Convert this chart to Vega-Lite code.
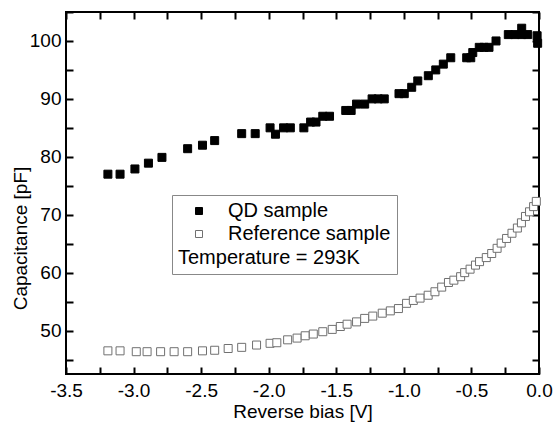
{
  "$schema": "https://vega.github.io/schema/vega-lite/v6.json",
  "width": 473,
  "height": 362,
  "autosize": {"type": "none"},
  "padding": {"left": 66, "top": 12, "right": 15, "bottom": 48},
  "background": "white",
  "config": {
    "view": {"stroke": "black", "strokeWidth": 2},
    "font": "Liberation Sans",
    "axis": {
      "domain": false,
      "grid": false,
      "tickColor": "black",
      "tickWidth": 2,
      "tickSize": 7,
      "labelFont": "Liberation Sans",
      "labelFontSize": 19,
      "labelColor": "black",
      "titleFont": "Liberation Sans",
      "titleFontSize": 19,
      "titleFontWeight": "normal",
      "titleColor": "black",
      "labelOverlap": false,
      "labelBound": false,
      "labelFlush": false
    }
  },
  "data": {
    "values": [
      {"bias": -3.19, "cap": 77.0, "series": "QD sample"},
      {"bias": -3.10, "cap": 77.0, "series": "QD sample"},
      {"bias": -2.99, "cap": 77.9, "series": "QD sample"},
      {"bias": -2.89, "cap": 78.9, "series": "QD sample"},
      {"bias": -2.79, "cap": 79.9, "series": "QD sample"},
      {"bias": -2.60, "cap": 81.4, "series": "QD sample"},
      {"bias": -2.49, "cap": 82.0, "series": "QD sample"},
      {"bias": -2.40, "cap": 82.8, "series": "QD sample"},
      {"bias": -2.20, "cap": 84.0, "series": "QD sample"},
      {"bias": -2.10, "cap": 84.0, "series": "QD sample"},
      {"bias": -1.99, "cap": 85.0, "series": "QD sample"},
      {"bias": -1.95, "cap": 83.9, "series": "QD sample"},
      {"bias": -1.89, "cap": 85.0, "series": "QD sample"},
      {"bias": -1.84, "cap": 85.0, "series": "QD sample"},
      {"bias": -1.74, "cap": 85.0, "series": "QD sample"},
      {"bias": -1.69, "cap": 86.0, "series": "QD sample"},
      {"bias": -1.65, "cap": 86.0, "series": "QD sample"},
      {"bias": -1.60, "cap": 87.0, "series": "QD sample"},
      {"bias": -1.55, "cap": 87.0, "series": "QD sample"},
      {"bias": -1.43, "cap": 88.0, "series": "QD sample"},
      {"bias": -1.39, "cap": 88.0, "series": "QD sample"},
      {"bias": -1.35, "cap": 89.1, "series": "QD sample"},
      {"bias": -1.29, "cap": 89.1, "series": "QD sample"},
      {"bias": -1.235, "cap": 90.0, "series": "QD sample"},
      {"bias": -1.19, "cap": 90.0, "series": "QD sample"},
      {"bias": -1.145, "cap": 90.0, "series": "QD sample"},
      {"bias": -1.036, "cap": 90.9, "series": "QD sample"},
      {"bias": -0.997, "cap": 90.9, "series": "QD sample"},
      {"bias": -0.942, "cap": 92.0, "series": "QD sample"},
      {"bias": -0.897, "cap": 93.1, "series": "QD sample"},
      {"bias": -0.819, "cap": 94.0, "series": "QD sample"},
      {"bias": -0.764, "cap": 95.0, "series": "QD sample"},
      {"bias": -0.708, "cap": 96.0, "series": "QD sample"},
      {"bias": -0.653, "cap": 97.1, "series": "QD sample"},
      {"bias": -0.535, "cap": 97.1, "series": "QD sample"},
      {"bias": -0.505, "cap": 97.1, "series": "QD sample"},
      {"bias": -0.49, "cap": 98.0, "series": "QD sample"},
      {"bias": -0.442, "cap": 98.9, "series": "QD sample"},
      {"bias": -0.407, "cap": 98.9, "series": "QD sample"},
      {"bias": -0.37, "cap": 98.9, "series": "QD sample"},
      {"bias": -0.318, "cap": 100.0, "series": "QD sample"},
      {"bias": -0.227, "cap": 101.1, "series": "QD sample"},
      {"bias": -0.178, "cap": 101.1, "series": "QD sample"},
      {"bias": -0.128, "cap": 102.2, "series": "QD sample"},
      {"bias": -0.128, "cap": 101.1, "series": "QD sample"},
      {"bias": -0.084, "cap": 101.1, "series": "QD sample"},
      {"bias": -0.014, "cap": 100.9, "series": "QD sample"},
      {"bias": -0.010, "cap": 99.6, "series": "QD sample"},
      {"bias": -3.19, "cap": 46.5, "series": "Reference sample"},
      {"bias": -3.10, "cap": 46.5, "series": "Reference sample"},
      {"bias": -2.98, "cap": 46.35, "series": "Reference sample"},
      {"bias": -2.90, "cap": 46.35, "series": "Reference sample"},
      {"bias": -2.80, "cap": 46.35, "series": "Reference sample"},
      {"bias": -2.70, "cap": 46.35, "series": "Reference sample"},
      {"bias": -2.60, "cap": 46.35, "series": "Reference sample"},
      {"bias": -2.49, "cap": 46.5, "series": "Reference sample"},
      {"bias": -2.40, "cap": 46.6, "series": "Reference sample"},
      {"bias": -2.30, "cap": 46.9, "series": "Reference sample"},
      {"bias": -2.20, "cap": 47.1, "series": "Reference sample"},
      {"bias": -2.09, "cap": 47.5, "series": "Reference sample"},
      {"bias": -1.99, "cap": 47.8, "series": "Reference sample"},
      {"bias": -1.94, "cap": 47.9, "series": "Reference sample"},
      {"bias": -1.86, "cap": 48.4, "series": "Reference sample"},
      {"bias": -1.79, "cap": 48.7, "series": "Reference sample"},
      {"bias": -1.73, "cap": 49.1, "series": "Reference sample"},
      {"bias": -1.67, "cap": 49.4, "series": "Reference sample"},
      {"bias": -1.60, "cap": 49.8, "series": "Reference sample"},
      {"bias": -1.53, "cap": 50.2, "series": "Reference sample"},
      {"bias": -1.47, "cap": 50.7, "series": "Reference sample"},
      {"bias": -1.42, "cap": 51.1, "series": "Reference sample"},
      {"bias": -1.35, "cap": 51.5, "series": "Reference sample"},
      {"bias": -1.29, "cap": 52.1, "series": "Reference sample"},
      {"bias": -1.23, "cap": 52.5, "series": "Reference sample"},
      {"bias": -1.16, "cap": 53.0, "series": "Reference sample"},
      {"bias": -1.10, "cap": 53.4, "series": "Reference sample"},
      {"bias": -1.04, "cap": 53.8, "series": "Reference sample"},
      {"bias": -0.98, "cap": 54.7, "series": "Reference sample"},
      {"bias": -0.93, "cap": 55.2, "series": "Reference sample"},
      {"bias": -0.88, "cap": 55.6, "series": "Reference sample"},
      {"bias": -0.82, "cap": 56.1, "series": "Reference sample"},
      {"bias": -0.77, "cap": 56.7, "series": "Reference sample"},
      {"bias": -0.72, "cap": 57.5, "series": "Reference sample"},
      {"bias": -0.67, "cap": 58.3, "series": "Reference sample"},
      {"bias": -0.63, "cap": 58.7, "series": "Reference sample"},
      {"bias": -0.58, "cap": 59.3, "series": "Reference sample"},
      {"bias": -0.55, "cap": 60.0, "series": "Reference sample"},
      {"bias": -0.51, "cap": 60.6, "series": "Reference sample"},
      {"bias": -0.47, "cap": 61.3, "series": "Reference sample"},
      {"bias": -0.44, "cap": 61.9, "series": "Reference sample"},
      {"bias": -0.39, "cap": 62.6, "series": "Reference sample"},
      {"bias": -0.35, "cap": 63.3, "series": "Reference sample"},
      {"bias": -0.31, "cap": 64.2, "series": "Reference sample"},
      {"bias": -0.28, "cap": 65.1, "series": "Reference sample"},
      {"bias": -0.24, "cap": 65.9, "series": "Reference sample"},
      {"bias": -0.20, "cap": 66.8, "series": "Reference sample"},
      {"bias": -0.16, "cap": 67.7, "series": "Reference sample"},
      {"bias": -0.13, "cap": 68.6, "series": "Reference sample"},
      {"bias": -0.10, "cap": 69.7, "series": "Reference sample"},
      {"bias": -0.07, "cap": 70.5, "series": "Reference sample"},
      {"bias": -0.04, "cap": 71.4, "series": "Reference sample"},
      {"bias": -0.02, "cap": 72.3, "series": "Reference sample"}
    ]
  },
  "layer": [
    {
      "mark": {"type": "point", "shape": "square", "filled": true, "size": 64, "strokeWidth": 1, "opacity": 1, "clip": false},
      "encoding": {
        "x": {
          "field": "bias", "type": "quantitative",
          "scale": {"domain": [-3.5, 0], "nice": false, "zero": false},
          "axis": {
            "orient": "bottom",
            "offset": -7,
            "title": "Reverse bias [V]",
            "values": [-3.5, -3.25, -3.0, -2.75, -2.5, -2.25, -2.0, -1.75, -1.5, -1.25, -1.0, -0.75, -0.5, -0.25, 0],
            "labelExpr": "abs(datum.value % 0.5) < 0.001 ? (datum.value < 0 ? '-' : '') + format(abs(datum.value), '.1f') : ''",
            "labelPadding": 7,
            "titleY": 44,
            "titleBaseline": "middle"
          }
        },
        "y": {
          "field": "cap", "type": "quantitative",
          "scale": {"domain": [42.5, 105], "nice": false, "zero": false},
          "axis": {
            "orient": "left",
            "offset": -7,
            "title": "Capacitance [pF]",
            "values": [45, 50, 55, 60, 65, 70, 75, 80, 85, 90, 95, 100, 105],
            "labelExpr": "datum.value % 10 === 0 ? format(datum.value, 'd') : ''",
            "labelPadding": 5,
            "titleX": -53,
            "titleY": 226,
            "titleAngle": 270,
            "titleAlign": "center",
            "titleBaseline": "middle"
          }
        },
        "fill": {
          "field": "series", "type": "nominal", "title": "Temperature = 293K",
          "scale": {"domain": ["QD sample", "Reference sample"], "range": ["#000000", "#ffffff"]},
          "legend": {
            "orient": "none", "legendX": 106, "legendY": 183,
            "titleOrient": "bottom", "titleAnchor": "start", "titlePadding": 4,
            "titleFontSize": 20, "titleFontWeight": "normal", "titleFont": "Liberation Sans", "titleColor": "black", "titleLimit": 400,
            "labelFontSize": 20, "labelFont": "Liberation Sans", "labelColor": "black", "labelLimit": 400,
            "labelOffset": 19, "symbolOffset": 11, "rowPadding": 3,
            "symbolType": "square", "symbolSize": 49, "symbolStrokeWidth": 1,
            "padding": 6, "strokeColor": "#888888", "fillColor": "white", "cornerRadius": 0
          }
        },
        "stroke": {
          "field": "series", "type": "nominal", "title": "Temperature = 293K",
          "scale": {"domain": ["QD sample", "Reference sample"], "range": ["#000000", "#707070"]},
          "legend": {
            "orient": "none", "legendX": 106, "legendY": 183,
            "titleOrient": "bottom", "titleAnchor": "start", "titlePadding": 4,
            "titleFontSize": 20, "titleFontWeight": "normal", "titleFont": "Liberation Sans", "titleColor": "black", "titleLimit": 400,
            "labelFontSize": 20, "labelFont": "Liberation Sans", "labelColor": "black", "labelLimit": 400,
            "labelOffset": 19, "symbolOffset": 11, "rowPadding": 3,
            "symbolType": "square", "symbolSize": 49, "symbolStrokeWidth": 1,
            "padding": 6, "strokeColor": "#888888", "fillColor": "white", "cornerRadius": 0
          }
        }
      }
    },
    {
      "mark": {"type": "point", "opacity": 0},
      "encoding": {
        "x": {
          "field": "bias", "type": "quantitative",
          "axis": {
            "orient": "top", "offset": -7, "title": null, "labels": false,
            "values": [-3.5, -3.25, -3.0, -2.75, -2.5, -2.25, -2.0, -1.75, -1.5, -1.25, -1.0, -0.75, -0.5, -0.25, 0]
          }
        },
        "y": {
          "field": "cap", "type": "quantitative",
          "axis": {
            "orient": "right", "offset": -7, "title": null, "labels": false,
            "values": [45, 50, 55, 60, 65, 70, 75, 80, 85, 90, 95, 100, 105]
          }
        }
      }
    }
  ],
  "resolve": {"axis": {"x": "independent", "y": "independent"}}
}
